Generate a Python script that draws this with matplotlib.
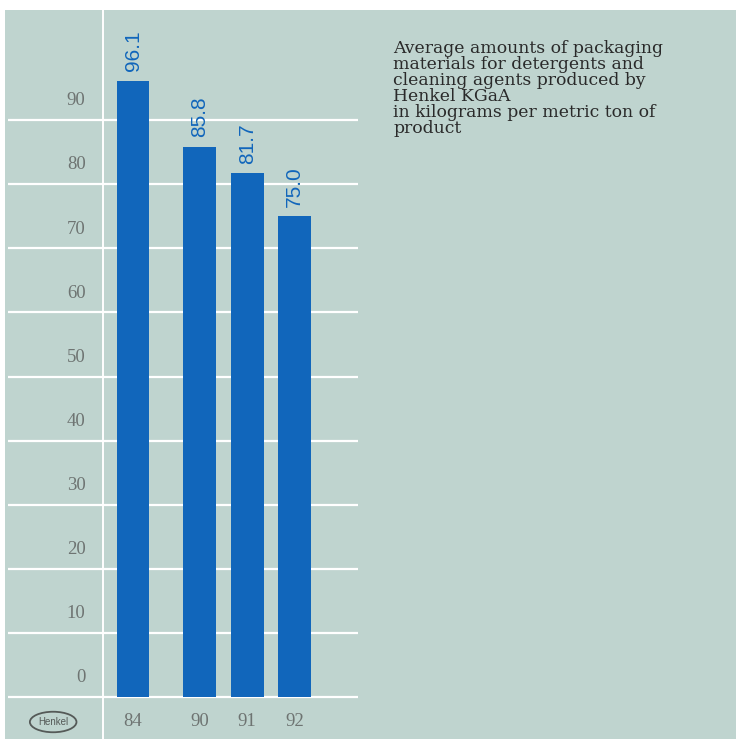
import matplotlib.pyplot as plt
from matplotlib.patches import Ellipse, Rectangle

years = ["84", "90", "91", "92"]
values = [96.1, 85.8, 81.7, 75.0]
xpos = [0, 1.4, 2.4, 3.4]
yticks = [0, 10, 20, 30, 40, 50, 60, 70, 80, 90]
note = ("Average amounts of packaging\n"
        "materials for detergents and\n"
        "cleaning agents produced by\n"
        "Henkel KGaA\n"
        "in kilograms per metric ton of\n"
        "product")

W, H = 736, 739
bg = "#bfd4cf"
blue = "#1166bb"
grey = "#6e7472"

fig = plt.figure(figsize=(W / 100, H / 100), dpi=100)
fig.patch.set_facecolor("white")
# teal panel (pixel coords -> figure fraction)
fig.patches.append(Rectangle((5 / W, 0), 1 - 5 / W, (H - 10) / H,
                             transform=fig.transFigure, facecolor=bg,
                             edgecolor="none", zorder=-5))

# axes region in pixels: x 8..358, y 10..739
ax = fig.add_axes([8 / W, 0, 350 / W, (H - 10) / H])
ax.set_facecolor("none")
px_per_unit = 6.41
ax.set_ylim(-(739 - 697) / px_per_unit, (697 - 10) / px_per_unit)
ax.set_xlim(-2.63, 4.73)
ax.axis("off")

for t in yticks:
    ax.axhline(t, color="white", lw=1.6, zorder=1)
    ax.text(-1.0, t + 3.0, str(t), ha="right", va="center", fontsize=13.5,
            color=grey, family="Liberation Serif")
ax.axvline(-0.63, color="white", lw=1.4, zorder=1)

ax.bar(xpos, values, width=0.69, color=blue, zorder=2)
for x, v in zip(xpos, values):
    ax.text(x, v + 1.5, f"{v:.1f}", rotation=90, ha="center", va="bottom",
            fontsize=15, color=blue, family="Liberation Sans")
for x, y in zip(xpos, years):
    ax.text(x, -3.9, y, ha="center", va="center", fontsize=13.5,
            color=grey, family="Liberation Serif")

# Henkel logo
ax.add_patch(Ellipse((-1.68, -3.9), 0.98, 3.2, facecolor="none",
                     edgecolor="#555a58", lw=1.3, clip_on=False))
ax.text(-1.68, -3.9, "Henkel", ha="center", va="center", fontsize=7,
        color="#555a58", family="Liberation Sans")

fig.text(393 / W, 1 - 40 / H, note, ha="left", va="top", fontsize=12.4,
         color="#2a2a2a", family="DejaVu Serif", linespacing=0.93)

fig.savefig("out.png", dpi=100)
